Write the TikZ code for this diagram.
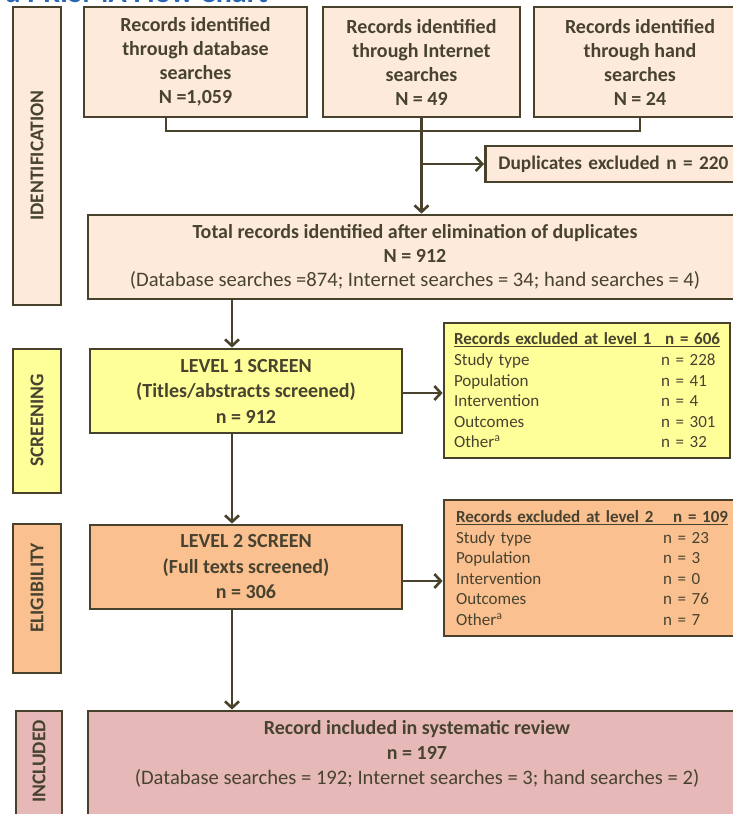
\documentclass[tikz,border=0pt]{standalone}
\usepackage{fontspec}
\setmainfont{Carlito}
\usetikzlibrary{arrows.meta}

\definecolor{edge}{RGB}{72,66,44}
\definecolor{txt}{RGB}{72,67,48}
\definecolor{idfill}{RGB}{253,234,218}
\definecolor{scfill}{RGB}{255,255,153}
\definecolor{elfill}{RGB}{250,192,144}
\definecolor{infill}{RGB}{230,185,184}
\definecolor{titleblue}{RGB}{40,100,180}

\newcommand{\plainline}{\fontsize{20.6}{24}\selectfont\mdseries}

\tikzset{
  box/.style={draw=edge, line width=2.8pt, inner sep=0pt, align=center,
    text=txt, font=\fontsize{20}{24}\selectfont\bfseries},
  listbox/.style={draw=edge, line width=2.8pt, inner sep=0pt, align=left,
    text=txt, font=\fontsize{17}{20.6}\selectfont},
  phase/.style={draw=edge, line width=2.8pt, inner sep=0pt},
  phaselabel/.style={rotate=90, inner sep=0pt, text=txt,
    font=\fontsize{19.5}{21}\selectfont\bfseries},
  link/.style={draw=edge, line width=2.6pt},
  arr/.style={link, -{Straight Barb[length=6.5pt,width=14pt]}},
}

\begin{document}
\begin{tikzpicture}[x=1pt,y=-1pt]
\useasboundingbox (0,0) rectangle (733,814);
\clip (0,0) rectangle (733,814);

% title strip (mostly above the page)
\node[anchor=base east, inner sep=0pt, text=titleblue,
  font=\fontsize{30}{32}\selectfont\bfseries] (title) at (268,2.5) {d PRISMA Flow Chart};

% phase bars
\node[phase, fill=idfill, minimum width=48pt, minimum height=298pt] (pid) at (37,156) {};
\node[phaselabel] (lid) at (37,155.5) {IDENTIFICATION};
\node[phase, fill=scfill, minimum width=48pt, minimum height=144pt] (psc) at (37,421) {};
\node[phaselabel] (lsc) at (37,420.5) {SCREENING};
\node[phase, fill=elfill, minimum width=48pt, minimum height=149pt] (pel) at (37,598.5) {};
\node[phaselabel] (lel) at (37,588) {ELIGIBILITY};
\node[phase, fill=infill, minimum width=46pt, minimum height=140pt] (pin) at (39,781) {};
\node[phaselabel] (lin) at (39,761.5) {INCLUDED};

% identification boxes
\node[box, fill=idfill, minimum width=223pt, minimum height=110pt] (b1) at (195.5,62)
  {Records identified\\through database\\searches\\N =1,059};
\node[box, fill=idfill, minimum width=197pt, minimum height=110pt] (b2) at (421.5,62)
  {Records identified\\through Internet\\searches\\N = 49};
\node[box, fill=idfill, minimum width=212pt, minimum height=110pt] (b3) at (640,62)
  {Records identified\\through hand\\searches\\N = 24};
\node[box, fill=idfill, minimum height=36pt, anchor=west,
  text width=262pt, align=left, font=\fontsize{19.3}{23}\selectfont\bfseries] (dup) at (484,164)
  {\hspace*{13pt}Duplicates excluded\ n = 220};
\node[box, fill=idfill, minimum width=654pt, minimum height=84pt] (tot) at (415,257)
  {Total records identified after elimination of duplicates\\N = 912\\
   \plainline(Database searches =874; Internet searches = 34; hand searches = 4)};

% screening
\node[box, fill=scfill, minimum width=312pt, minimum height=84pt,
  font=\fontsize{20}{25.5}\selectfont\bfseries] (l1) at (246,391)
  {LEVEL 1 SCREEN\\(Titles/abstracts screened)\\n = 912};
\node[listbox, fill=scfill, minimum width=286pt, minimum height=135pt, text width=266pt] (ex1) at (587,390.5)
  {\underline{\makebox[266pt]{\bfseries Records excluded at level 1\hfill n = 606}}\\
   Study type\hfill\makebox[59pt][l]{n = 228}\\
   Population\hfill\makebox[59pt][l]{n = 41}\\
   Intervention\hfill\makebox[59pt][l]{n = 4}\\
   Outcomes\hfill\makebox[59pt][l]{n = 301}\\
   Other\textsuperscript{a}\hfill\makebox[59pt][l]{n = 32}};

% eligibility
\node[box, fill=elfill, minimum width=312pt, minimum height=84pt,
  font=\fontsize{20}{25.5}\selectfont\bfseries] (l2) at (246,567)
  {LEVEL 2 SCREEN\\(Full texts screened)\\n = 306};
\node[listbox, fill=elfill, minimum width=296pt, minimum height=136pt, text width=272pt] (ex2) at (592,568)
  {\underline{\makebox[272pt]{\bfseries Records excluded at level 2\hfill n = 109}}\\
   Study type\hfill\makebox[65pt][l]{n = 23}\\
   Population\hfill\makebox[65pt][l]{n = 3}\\
   Intervention\hfill\makebox[65pt][l]{n = 0}\\
   Outcomes\hfill\makebox[65pt][l]{n = 76}\\
   Other\textsuperscript{a}\hfill\makebox[65pt][l]{n = 7}};

% included
\node[box, fill=infill, minimum width=658pt, minimum height=138pt] (inc) at (417,780) {};
\node[align=center, inner sep=0pt, text=txt, font=\fontsize{20}{25}\selectfont\bfseries,
  anchor=north] (inctxt) at (417,720)
  {Record included in systematic review\\n = 197\\
   \plainline(Database searches = 192; Internet searches = 3; hand searches = 2)};

% connectors
\coordinate (m1) at (166,131);
\coordinate (m3) at (640,131);
\coordinate (mid) at (422,164);
\coordinate (col) at (232,0);
\draw[link] (b1.south -| m1) -- (m1) -- (m3) -- (b3.south -| m3);
\draw[arr] (b2.south) -- (tot.north -| b2.south);
\draw[arr] (mid) -- (dup.west);
\draw[arr] (tot.south -| col) -- (l1.north -| col);
\draw[arr] ([yshift=-2pt]l1.east) -- ([yshift=-2pt]l1.east -| ex1.west);
\draw[arr] (l1.south -| col) -- (l2.north -| col);
\draw[arr] ([yshift=-14pt]l2.east) -- ([yshift=-14pt]l2.east -| ex2.west);
\draw[arr] (l2.south -| col) -- (inc.north -| col);
\end{tikzpicture}
\end{document}
